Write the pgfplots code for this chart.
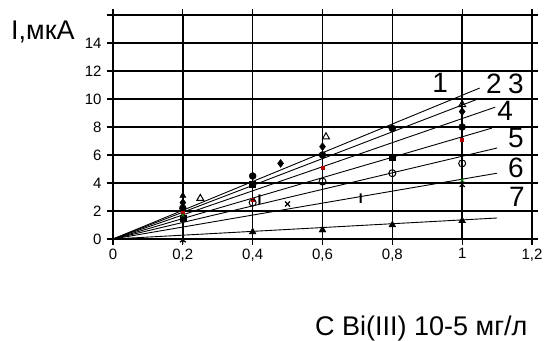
\documentclass[border=0pt]{standalone}
\usepackage{fontspec}
\setmainfont{Liberation Sans}
\usepackage{pgfplots}
\pgfplotsset{compat=1.18}
\begin{document}
\begin{tikzpicture}[x=1pt,y=1pt]
\path[use as bounding box] (0,0) rectangle (546,340);
\begin{axis}[
  at={(113pt,101pt)}, anchor=south west,
  scale only axis, width=419pt, height=224pt,
  xmin=0, xmax=1.2, ymin=0, ymax=16,
  xtick={0,0.2,0.4,0.6,0.8,1,1.2}, ytick={0,2,4,6,8,10,12,14,16},
  xticklabels={0,{0,2},{0,4},{0,6},{0,8},1,{1,2}},
  yticklabels={0,2,4,6,8,10,12,14,{}},
  grid=major, major grid style={black, line width=1.4pt},
  axis line style={black, line width=1.7pt},
  tick style={black, line width=1.3pt}, tick align=outside, major tick length=6pt,
  ticklabel style={font=\fontsize{15}{15}\selectfont},
  yticklabel style={xshift=-2pt},
  clip=false,
]
% regression lines
\addplot[black, line width=0.9pt] coordinates {(0,0) (1.05,10.78)};
\addplot[black, line width=0.9pt] coordinates {(0,0) (1.045,10.0)};
\addplot[black, line width=0.9pt] coordinates {(0,0) (1.095,9.42)};
\addplot[black, line width=0.9pt] coordinates {(0,0) (1.085,7.92)};
\addplot[black, line width=0.9pt] coordinates {(0,0) (1.10,6.5)};
\addplot[black, line width=0.9pt] coordinates {(0,0) (1.10,4.7)};
\addplot[black, line width=0.9pt] coordinates {(0,0) (1.10,1.5)};
% markers
\addplot[only marks, mark=triangle, mark size=4pt, black, line width=1pt] coordinates {(0.25,2.9) (0.61,7.3) (1.0,9.6)};
\addplot[only marks, mark=triangle*, mark size=3.5pt, black] coordinates {(0.2,3.1)};
\addplot[only marks, mark=diamond*, mark size=4pt, black] coordinates {(0.2,2.6) (0.48,5.4) (0.6,6.6) (1.0,9.1)};
\addplot[only marks, mark=*, mark size=3.5pt, black] coordinates {(0.2,2.2) (0.4,4.5) (0.6,6.0) (0.8,7.9) (1.0,8.0)};
\addplot[only marks, mark=square*, mark size=3pt, black] coordinates {(0.2,1.5) (0.4,3.9) (0.8,5.86)};
\addplot[only marks, mark=square*, mark size=1.5pt, red!70!black] coordinates {(0.2,1.9) (0.4,2.8) (0.6,5.1) (1.0,7.1)};
\addplot[only marks, mark=o, mark size=3.5pt, black, line width=1pt] coordinates {(0.4,2.6) (0.6,4.1) (0.8,4.7) (1.0,5.4)};
\addplot[only marks, mark=text, text mark={\fontsize{14}{14}\selectfont\bfseries I}, black] coordinates {(0.42,2.8) (0.71,2.9)};
\addplot[only marks, mark=x, mark size=3.5pt, black, line width=1.2pt] coordinates {(0.5,2.5) (1.0,3.9)};
\addplot[only marks, mark=x, mark size=2pt, green!50!black, line width=0.8pt] coordinates {(0.2,1.7) (1.0,4.2)};
\addplot[only marks, mark=asterisk, mark size=3.5pt, black, line width=1.2pt] coordinates {(0.2,-0.1)};
\addplot[only marks, mark=triangle*, mark size=4pt, black] coordinates {(0.4,0.5) (0.6,0.64) (0.8,1.0) (1.0,1.3)};
% line labels
\node[font=\fontsize{28}{28}\selectfont] at (axis cs:0.937,11.14) {1};
\node[font=\fontsize{28}{28}\selectfont] at (axis cs:1.091,11.07) {2};
\node[font=\fontsize{28}{28}\selectfont] at (axis cs:1.154,11.07) {3};
\node[font=\fontsize{28}{28}\selectfont] at (axis cs:1.123,9.14) {4};
\node[font=\fontsize{28}{28}\selectfont] at (axis cs:1.154,7.21) {5};
\node[font=\fontsize{28}{28}\selectfont] at (axis cs:1.154,5.07) {6};
\node[font=\fontsize{28}{28}\selectfont] at (axis cs:1.157,3.0) {7};
\end{axis}
\node[anchor=base west, inner sep=0pt, font=\fontsize{27}{27}\selectfont] at (315,5) {C Bi(III) 10-5 мг/л};
\node[anchor=base west, inner sep=0pt, font=\fontsize{27}{27}\selectfont] at (11,300) {I,мкА};
\end{tikzpicture}
\end{document}
